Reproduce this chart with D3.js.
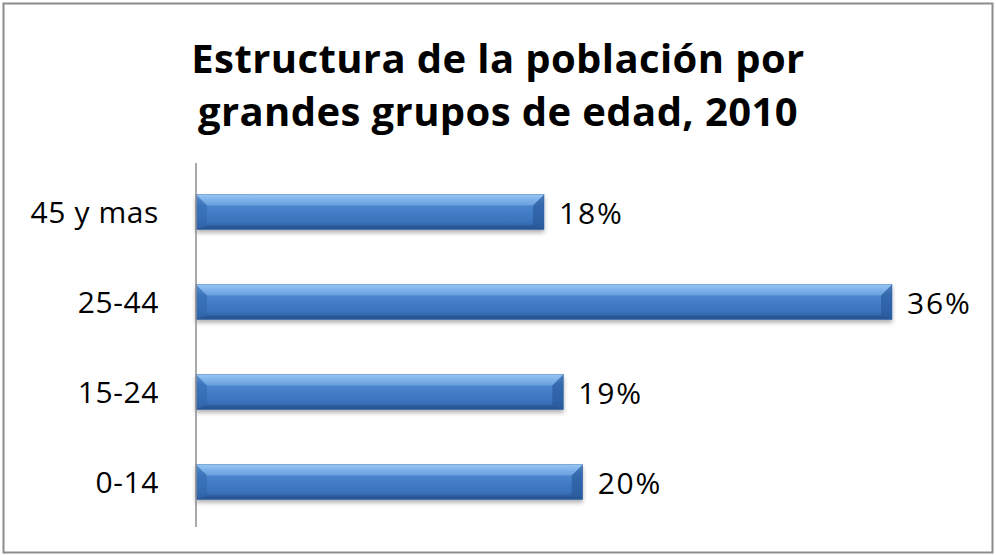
<!DOCTYPE html>
<html>
<head>
<meta charset="utf-8">
<script src="https://cdn.jsdelivr.net/npm/d3@7"></script>
<style>
  body { margin: 0; background: #fff; }
  svg { display: block; }
</style>
</head>
<body>
<svg width="996" height="555"></svg>
<script>
const categories = ["45 y mas", "25-44", "15-24", "0-14"]
const values = [18, 36, 19, 20]
const titleLines = ["Estructura de la población por", "grandes grupos de edad, 2010"]

const svg = d3.select("svg")
const width = +svg.attr("width")
const height = +svg.attr("height")
const margin = {top: 167, left: 196, bottom: 28}

const font = "'Open Sans', 'Noto Sans', sans-serif"

// chart frame
svg.append("rect")
    .attr("x", 3.5).attr("y", 3.5)
    .attr("width", width - 7).attr("height", height - 6)
    .attr("fill", "#fff")
    .attr("stroke", "#8c8c8c")
    .attr("stroke-width", 2)

const defs = svg.append("defs")
const grad = defs.append("linearGradient")
    .attr("id", "barGrad")
    .attr("x1", 0).attr("y1", 0).attr("x2", 0).attr("y2", 1)
grad.selectAll("stop")
    .data([[0, "#8cc0f0"], [0.12, "#6fa8e6"], [0.3, "#4a86cf"], [0.75, "#3b74bd"], [1, "#2f5f9f"]])
    .enter().append("stop")
    .attr("offset", d => d[0])
    .attr("stop-color", d => d[1])

const shadow = defs.append("filter").attr("id", "shadow")
    .attr("x", "-5%").attr("y", "-20%").attr("width", "110%").attr("height", "160%")
shadow.append("feDropShadow")
    .attr("dx", 0).attr("dy", 3).attr("stdDeviation", 2)
    .attr("flood-color", "#000").attr("flood-opacity", 0.3)

// title
svg.append("text")
    .attr("text-anchor", "middle")
    .attr("font-family", font)
    .attr("font-weight", "bold")
    .attr("font-size", 40)
    .attr("letter-spacing", 0.4)
    .attr("fill", "#000")
    .selectAll("tspan")
    .data(titleLines)
    .enter().append("tspan")
    .attr("x", 498)
    .attr("y", (d, i) => 73 + i * 53)
    .text(d => d)

const x = d3.scaleLinear()
    .domain([0, 36])
    .range([margin.left, margin.left + 696])

const y = d3.scaleBand()
    .domain(categories)
    .range([margin.top, height - margin.bottom])
    .paddingInner(0.61)
    .paddingOuter(0.305)

const bars = svg.append("g")
    .selectAll("g")
    .data(categories.map((c, i) => ({cat: c, value: values[i]})))
    .enter().append("g")

const bev = 11

bars.append("rect")
    .attr("x", margin.left)
    .attr("y", d => y(d.cat))
    .attr("width", d => x(d.value) - margin.left)
    .attr("height", y.bandwidth())
    .attr("fill", "url(#barGrad)")
    .attr("stroke", "#4a7bb8")
    .attr("stroke-width", 0.6)
    .attr("filter", "url(#shadow)")

// bevelled end caps
bars.append("path")
    .attr("d", d => {
        const y0 = y(d.cat), h = y.bandwidth(), x0 = margin.left
        return `M${x0},${y0} L${x0 + bev},${y0 + bev} L${x0 + bev},${y0 + h - 4} L${x0},${y0 + h} Z`
    })
    .attr("fill", "#2e63a8")
    .attr("opacity", 0.5)

bars.append("path")
    .attr("d", d => {
        const y0 = y(d.cat), h = y.bandwidth(), x1 = x(d.value)
        return `M${x1},${y0} L${x1 - bev},${y0 + bev} L${x1 - bev},${y0 + h - 4} L${x1},${y0 + h} Z`
    })
    .attr("fill", "#245596")
    .attr("opacity", 0.6)

// top highlight
bars.append("path")
    .attr("d", d => {
        const y0 = y(d.cat), x0 = margin.left, x1 = x(d.value)
        return `M${x0},${y0} L${x1},${y0} L${x1 - bev},${y0 + bev} L${x0 + bev},${y0 + bev} Z`
    })
    .attr("fill", "#a8d2f8")
    .attr("opacity", 0.35)

// bottom dark edge
bars.append("path")
    .attr("d", d => {
        const y0 = y(d.cat), h = y.bandwidth(), x0 = margin.left, x1 = x(d.value)
        return `M${x0},${y0 + h} L${x1},${y0 + h} L${x1 - bev},${y0 + h - 4} L${x0 + bev},${y0 + h - 4} Z`
    })
    .attr("fill", "#1f4a85")
    .attr("opacity", 0.5)

// value labels
bars.append("text")
    .attr("x", d => x(d.value) + 15)
    .attr("y", d => y(d.cat) + y.bandwidth() / 2 + 1)
    .attr("dy", "0.35em")
    .attr("font-family", font)
    .attr("font-size", 30)
    .attr("letter-spacing", 1.8)
    .attr("fill", "#000")
    .text(d => d.value + "%")

// category axis
const axis = svg.append("g")
    .attr("transform", `translate(${margin.left},0)`)
    .call(d3.axisLeft(y).tickSize(0).tickPadding(37))
axis.select(".domain")
    .attr("stroke", "#8c8c8c")
    .attr("stroke-width", 1.5)
    .attr("d", `M0,${margin.top - 4}V${height - margin.bottom}`)
axis.selectAll("text")
    .attr("font-family", font)
    .attr("font-size", 30)
    .attr("letter-spacing", 0.6)
    .attr("dy", "0.36em")
    .attr("fill", "#000")
</script>
</body>
</html>
